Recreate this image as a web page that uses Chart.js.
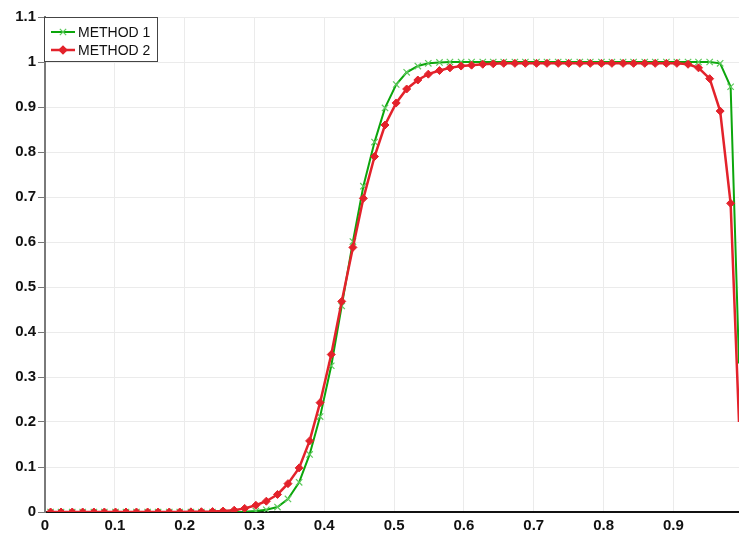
<!DOCTYPE html>
<html>
<head>
<meta charset="utf-8">
<script src="https://cdn.jsdelivr.net/npm/chart.js@4/dist/chart.umd.min.js"></script>
<style>
    body { margin: 0; background: #fff; }
    #wrap { width: 739px; height: 539px; position: relative; }
</style>
</head>
<body>
<div id="wrap"><canvas id="plot"></canvas></div>
<script>
// Sample positions (cell centres + end point)
const xs = [
    0.008, 0.023, 0.039, 0.054, 0.070, 0.085, 0.101, 0.116, 0.131, 0.147,
    0.162, 0.178, 0.193, 0.209, 0.224, 0.240, 0.255, 0.271, 0.286, 0.302,
    0.317, 0.333, 0.348, 0.364, 0.379, 0.394, 0.410, 0.425, 0.441, 0.456,
    0.472, 0.487, 0.503, 0.518, 0.534, 0.549, 0.565, 0.580, 0.596, 0.611,
    0.627, 0.642, 0.657, 0.673, 0.688, 0.704, 0.719, 0.735, 0.750, 0.766,
    0.781, 0.797, 0.812, 0.828, 0.843, 0.859, 0.874, 0.890, 0.905, 0.921,
    0.936, 0.952, 0.967, 0.982, 0.994
];

const method1 = [
    0, 0, 0, 0, 0, 0, 0, 0, 0, 0,
    0, 0, 0, 0, 0, 0, 0, 0, 0.0005, 0.002,
    0.005, 0.011, 0.029, 0.066, 0.128, 0.212, 0.325, 0.458, 0.601, 0.724,
    0.822, 0.898, 0.950, 0.977, 0.991, 0.997, 0.999, 1, 1, 1,
    1, 1, 1, 1, 1, 1, 1, 1, 1, 1,
    1, 1, 1, 1, 1, 1, 1, 1, 1, 1,
    1, 1, 0.997, 0.945, 0.33
];

const method2 = [
    0, 0, 0, 0, 0, 0, 0, 0, 0, 0,
    0, 0, 0, 0.0003, 0.0006, 0.001, 0.002, 0.004, 0.008, 0.015,
    0.024, 0.039, 0.063, 0.098, 0.158, 0.243, 0.350, 0.468, 0.588, 0.697,
    0.790, 0.860, 0.909, 0.940, 0.960, 0.973, 0.981, 0.987, 0.991, 0.993,
    0.995, 0.996, 0.997, 0.997, 0.997, 0.997, 0.997, 0.997, 0.997, 0.997,
    0.997, 0.997, 0.997, 0.997, 0.997, 0.997, 0.997, 0.997, 0.997, 0.995,
    0.987, 0.963, 0.891, 0.686, 0.20
];

const seriesNames = ["METHOD 1", "METHOD 2"];

const X_MAX = 0.994;
const GREEN = "#0ca60c";
const GREEN_MARK = "#5dc95d";
const RED = "#e3222b";

function toPoints(values) {
    return values.map((v, i) => ({ x: xs[i], y: v }));
}

// no marker on the end point
function radii(r) {
    return xs.map((x, i) => (i == xs.length - 1 ? 0 : r));
}

// Boxed legend in the top-left corner
const boxLegend = {
    id: "boxLegend",
    afterDraw(chart) {
        const ctx = chart.ctx;
        const left = 44.5, top = 17.5, w = 113, h = 44;
        ctx.save();
        ctx.fillStyle = "#fff";
        ctx.fillRect(left, top, w, h);
        ctx.strokeStyle = "#444";
        ctx.lineWidth = 1;
        ctx.strokeRect(left, top, w, h);

        const rows = [
            { y: 32, color: GREEN, width: 2, mark: GREEN_MARK, style: "crossRot", r: 4.5 },
            { y: 50, color: RED, width: 2.5, mark: RED, style: "rectRot", r: 4 }
        ];
        rows.forEach((row, i) => {
            ctx.strokeStyle = row.color;
            ctx.lineWidth = row.width;
            ctx.beginPath();
            ctx.moveTo(51, row.y);
            ctx.lineTo(75, row.y);
            ctx.stroke();

            ctx.strokeStyle = row.mark;
            ctx.fillStyle = row.mark;
            ctx.lineWidth = 1.2;
            Chart.helpers.drawPoint(ctx, { pointStyle: row.style, radius: row.r, rotation: 0, borderWidth: 1.2 }, 63, row.y);

            ctx.fillStyle = "#111";
            ctx.font = "14px 'Liberation Sans', Arial, sans-serif";
            ctx.textBaseline = "middle";
            ctx.fillText(seriesNames[i], 78, row.y + 1);
        });
        ctx.restore();
    }
};

const tickFont = { family: "'Liberation Sans', Arial, sans-serif", size: 15, weight: "bold" };

new Chart(document.getElementById("plot"), {
    type: "line",
    data: {
        datasets: [{
            label: seriesNames[0],
            data: toPoints(method1),
            borderColor: GREEN,
            borderWidth: 2,
            pointStyle: "crossRot",
            pointRadius: radii(4.5),
            pointBorderColor: GREEN_MARK,
            pointBorderWidth: 1.2,
            pointBackgroundColor: GREEN_MARK,
            tension: 0,
            fill: false,
            order: 1
        }, {
            label: seriesNames[1],
            data: toPoints(method2),
            borderColor: RED,
            borderWidth: 2.5,
            pointStyle: "rectRot",
            pointRadius: radii(4),
            pointBorderColor: RED,
            pointBorderWidth: 1,
            pointBackgroundColor: RED,
            tension: 0,
            fill: false,
            order: 0
        }]
    },
    options: {
        responsive: true,
        maintainAspectRatio: false,
        animation: false,
        layout: { autoPadding: false, padding: { top: 17, right: 0, left: 0, bottom: 0 } },
        plugins: {
            legend: { display: false },
            tooltip: { enabled: false }
        },
        scales: {
            x: {
                type: "linear",
                min: 0,
                max: X_MAX,
                afterFit(scale) { scale.height = 27; },
                ticks: {
                    stepSize: 0.1,
                    includeBounds: false,
                    maxRotation: 0,
                    autoSkip: false,
                    padding: 3,
                    color: "#111",
                    font: tickFont,
                    callback: v => String(+v.toFixed(2))
                },
                grid: { color: "#ebebeb", lineWidth: 1, tickLength: 2, tickColor: "rgba(0,0,0,0)" },
                border: { color: "#111", width: 2 }
            },
            y: {
                min: 0,
                max: 1.1,
                afterFit(scale) { scale.width = 45; },
                ticks: {
                    stepSize: 0.1,
                    padding: 2,
                    color: "#111",
                    font: tickFont,
                    callback: v => String(+v.toFixed(2))
                },
                grid: { color: "#ebebeb", lineWidth: 1, tickLength: 7, tickColor: "#777" },
                border: { color: "#7a7a7a", width: 2 }
            }
        }
    },
    plugins: [boxLegend]
});
</script>
</body>
</html>
